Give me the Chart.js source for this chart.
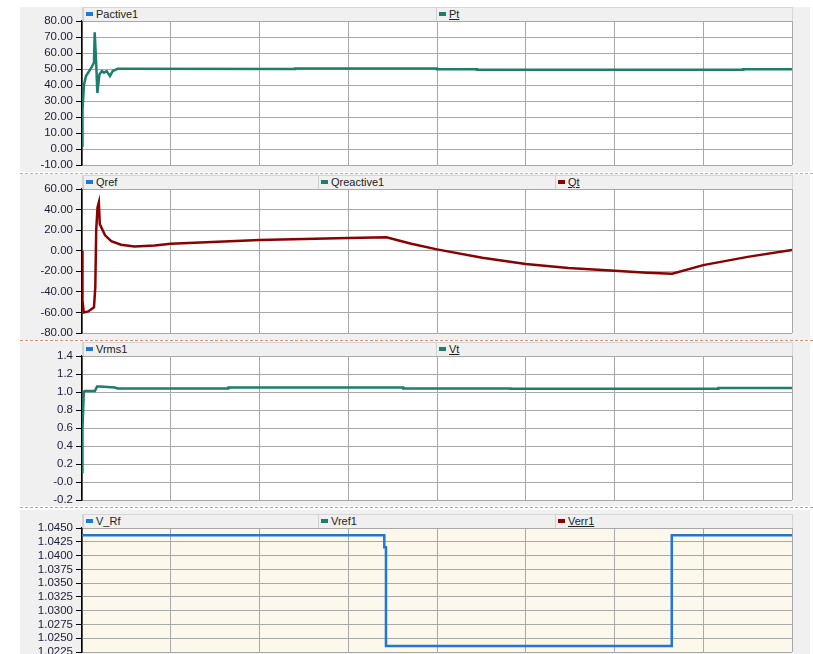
<!DOCTYPE html>
<html>
<head>
<meta charset="utf-8">
<script src="https://cdn.jsdelivr.net/npm/chart.js@4.4.1/dist/chart.umd.min.js"></script>
<style>
  body { margin: 0; width: 813px; height: 654px; background: #fff; position: relative; overflow: hidden; font-family: "Liberation Sans", sans-serif; }
  .panel { position: absolute; left: 20px; width: 790px; background: #f0f0f0; }
  .sep { position: absolute; left: 20px; width: 793px; height: 0; border-top: 1px dashed; }
  canvas { position: absolute; left: 20px; }
  .hdr { position: absolute; left: 82px; width: 709px; height: 13px; background: #f0f0f0; border: 1px solid #d6d6d6; border-bottom: none; z-index: 2; }
  .item { position: absolute; top: 0; height: 13px; line-height: 13px; font-size: 11px; color: #222; padding-left: 12px; border-left: 1px solid #d0d0d0; }
  .item i { position: absolute; left: 2px; top: 4px; width: 7px; height: 4px; }
  .item.u { text-decoration: underline; }
</style>
</head>
<body>
<div class="panel" style="top:7px;height:165px"></div>
<div class="panel" style="top:174px;height:166px"></div>
<div class="panel" style="top:342px;height:164px"></div>
<div class="panel" style="top:510px;height:144px"></div>
<div class="sep" style="top:173px;border-color:#e0a898"></div>
<div class="sep" style="top:340px;border-color:#f08878"></div>
<div class="sep" style="top:507px;border-color:#a8a8a8"></div>

<div class="hdr" style="top:7px">
  <div class="item" style="left:0"><i style="background:#1e78d7"></i>Pactive1</div>
  <div class="item u" style="left:353px"><i style="background:#1b7f6b"></i>Pt</div>
</div>
<div class="hdr" style="top:175px">
  <div class="item" style="left:0"><i style="background:#1e78d7"></i>Qref</div>
  <div class="item" style="left:235px"><i style="background:#1b7f6b"></i>Qreactive1</div>
  <div class="item u" style="left:472px"><i style="background:#8b0000"></i>Qt</div>
</div>
<div class="hdr" style="top:342px">
  <div class="item" style="left:0"><i style="background:#1e78d7"></i>Vrms1</div>
  <div class="item u" style="left:353px"><i style="background:#1b7f6b"></i>Vt</div>
</div>
<div class="hdr" style="top:514px">
  <div class="item" style="left:0"><i style="background:#1e78d7"></i>V_Rf</div>
  <div class="item" style="left:235px"><i style="background:#1b7f6b"></i>Vref1</div>
  <div class="item u" style="left:472px"><i style="background:#8b0000"></i>Verr1</div>
</div>

<canvas id="c1" width="790" height="172" style="top:0px"></canvas>
<canvas id="c2" width="790" height="168" style="top:172px"></canvas>
<canvas id="c3" width="790" height="167" style="top:340px"></canvas>
<canvas id="c4" width="790" height="160" style="top:508px"></canvas>

<script>
// time axis, one grid division per unit
const X_MIN = 0, X_MAX = 8;

// Pt
const ptTime = [0, 0.003, 0.008, 0.023, 0.045, 0.105, 0.135, 0.143, 0.158, 0.173, 0.196, 0.225, 0.248, 0.278, 0.315, 0.346, 0.405, 2.4, 2.4, 4.0, 4.0, 4.45, 4.45, 7.45, 7.45, 8];
const ptValue = [2, 13, 24.6, 40.4, 45.6, 50.8, 54, 73, 56, 35, 46.6, 48.7, 47.7, 48.7, 45.6, 48.7, 50.2, 50, 50.3, 50.3, 49.9, 49.9, 49.5, 49.5, 49.8, 49.8];

// Qt
const qtTime = [0, 0.005, 0.02, 0.07, 0.135, 0.15, 0.16, 0.175, 0.19, 0.2, 0.26, 0.33, 0.44, 0.59, 0.82, 1.0, 2.0, 3.0, 3.43, 3.71, 4.0, 4.51, 5.0, 5.48, 6.0, 6.37, 6.65, 7.0, 7.5, 8.0];
const qtValue = [0, -48, -60, -59, -55, -35, 20, 42, 47, 26, 15, 9.3, 5.8, 4.2, 5, 6.8, 10.3, 12.3, 13, 6.8, 1.3, -6.8, -13, -16.9, -19.5, -21.4, -22.4, -14, -6, 0.8];

// Vt
const vtTime = [0, 0.005, 0.02, 0.03, 0.145, 0.17, 0.2, 0.37, 0.4, 1.65, 1.65, 3.62, 3.62, 4.83, 4.83, 7.17, 7.17, 8];
const vtValue = [0.11, 0.58, 1.0, 1.01, 1.01, 1.06, 1.06, 1.05, 1.04, 1.04, 1.05, 1.05, 1.04, 1.04, 1.035, 1.035, 1.045, 1.045];

// V_Rf
const vrfTime = [0, 3.406, 3.406, 3.425, 3.425, 6.645, 6.645, 8];
const vrfValue = [1.0437, 1.0437, 1.0415, 1.0415, 1.0236, 1.0236, 1.0437, 1.0437];

const GREEN = "#1b7f6b", DARKRED = "#8b0000", BLUE = "#1e78d7";

const plotBg = {
  id: "plotBg",
  beforeDraw(chart, args, opts) {
    const { ctx, chartArea: a } = chart;
    ctx.save();
    ctx.fillStyle = opts.color;
    ctx.fillRect(a.left, a.top, a.width, a.height);
    ctx.restore();
  }
};

function toPoints(xs, ys) {
  return xs.map((x, i) => ({ x, y: ys[i] }));
}

function noPad(s) {
  s.paddingTop = 0; s.paddingBottom = 0; s.paddingLeft = 0; s.paddingRight = 0;
}

function makePanel(id, xs, ys, color, yMin, yMax, step, digits, pad, bg) {
  return new Chart(document.getElementById(id), {
    type: "line",
    data: {
      datasets: [{
        data: toPoints(xs, ys),
        borderColor: color,
        borderWidth: 2.5,
        pointRadius: 0,
        tension: 0,
        fill: false
      }]
    },
    options: {
      responsive: false,
      animation: false,
      events: [],
      layout: { padding: { left: 0, right: 18, top: pad[0], bottom: pad[1] } },
      plugins: { legend: { display: false }, tooltip: { enabled: false }, plotBg: { color: bg } },
      scales: {
        x: {
          type: "linear", min: X_MIN, max: X_MAX,
          ticks: { display: false, stepSize: 1 },
          grid: { color: "#a8a8a8", drawTicks: false },
          border: { display: false },
          afterFit: s => { s.height = 0; noPad(s); }
        },
        y: {
          min: yMin, max: yMax,
          ticks: {
            stepSize: step,
            autoSkip: false,
            padding: 3,
            color: "#1c1c38",
            font: { family: "Liberation Sans", size: 11.5 },
            callback: v => Number(v).toFixed(digits)
          },
          grid: { color: "#a8a8a8", tickColor: "#000", tickLength: 6 },
          border: { display: true, color: "#000", width: 1.5 },
          afterFit: s => { s.width = 62; noPad(s); }
        }
      }
    },
    plugins: [plotBg]
  });
}

makePanel("c1", ptTime, ptValue, GREEN, -10, 80, 10, 2, [21, 7], "#ffffff");
makePanel("c2", qtTime, qtValue, DARKRED, -80, 60, 20, 2, [17, 7], "#ffffff");
makePanel("c3", vtTime, vtValue, GREEN, -0.2, 1.4, 0.2, 1, [16, 7], "#ffffff");
makePanel("c4", vrfTime, vrfValue, BLUE, 1.0225, 1.045, 0.0025, 4, [20, 16], "#fdf8ec");
</script>
</body>
</html>
